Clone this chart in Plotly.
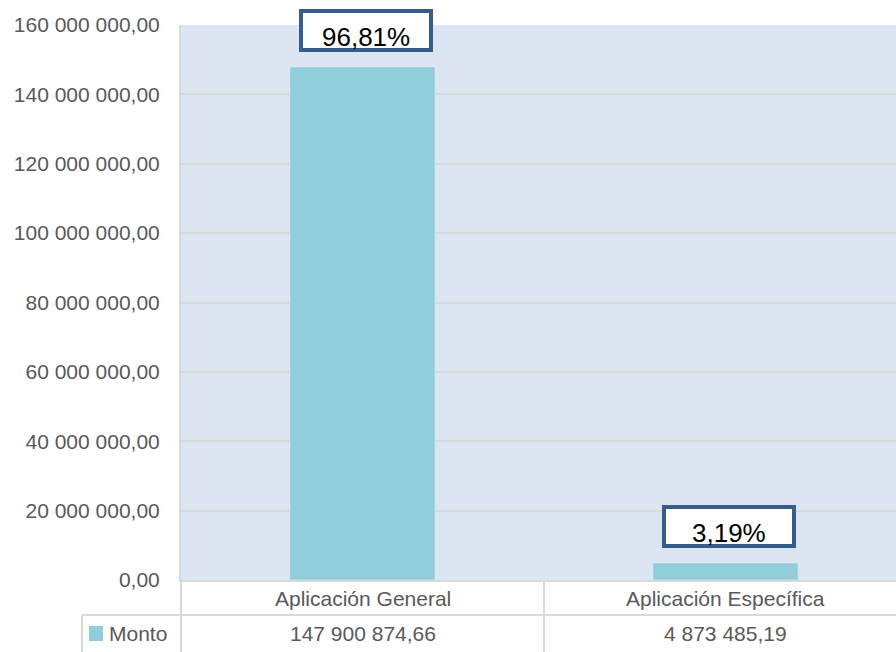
import plotly.graph_objects as go

categories = ["Aplicación General", "Aplicación Específica"]
monto = [147900874.66, 4873485.19]
percent_labels = ["96,81%", "3,19%"]
series_name = "Monto"
y_ticks = [0, 20e6, 40e6, 60e6, 80e6, 100e6, 120e6, 140e6, 160e6]

BAR = "#92CDDC"
BG = "#DCE6F2"
GRID = "#D9D9D9"
BORDER = "#385D8A"
TXT = "#595959"
FONT = "Liberation Sans, Arial, sans-serif"


def fmt(v):
    s = f"{v:,.2f}"
    return s.replace(",", " ").replace(".", ",")


W, H = 896, 652
ML, MR, MT, MB = 181, 0, 25, 72
plot_w = W - ML - MR
plot_h = H - MT - MB
cat_px = 363
x_lo = -0.5
x_hi = x_lo + plot_w / cat_px


def px_to_xpaper(px):
    return (px - ML) / plot_w


def py_to_ypaper(py):
    return (H - MB - py) / plot_h


fig = go.Figure()
fig.add_trace(go.Bar(
    x=categories, y=monto, name=series_name, marker_color=BAR,
    width=0.4, showlegend=False, hoverinfo="skip",
))

annotations = []
for c, v, lab in zip(categories, monto, percent_labels):
    # box
    annotations.append(dict(
        x=c, y=v, xref="x", yref="y", text=" ", showarrow=False,
        width=126, height=35, borderwidth=4, bordercolor=BORDER,
        bgcolor="white", borderpad=0, xanchor="center", yanchor="bottom",
        xshift=3, yshift=15,
    ))
    # text
    annotations.append(dict(
        x=c, y=v, xref="x", yref="y", text=lab, showarrow=False,
        font=dict(family=FONT, size=26, color="black"),
        xanchor="center", yanchor="middle", xshift=3, yshift=30,
    ))
    # category label (table first row)
    annotations.append(dict(
        x=c, y=py_to_ypaper(598), xref="x", yref="paper", text=c,
        showarrow=False, font=dict(family=FONT, size=21, color=TXT),
        xanchor="center", yanchor="middle",
    ))
    # table value
    annotations.append(dict(
        x=c, y=py_to_ypaper(634), xref="x", yref="paper", text=fmt(v),
        showarrow=False, font=dict(family=FONT, size=21, color=TXT),
        xanchor="center", yanchor="middle",
    ))

annotations.append(dict(
    x=px_to_xpaper(107), y=py_to_ypaper(634), xref="paper", yref="paper",
    text=series_name, showarrow=False,
    font=dict(family=FONT, size=21, color=TXT),
    xanchor="left", yanchor="middle",
))

line = dict(color=GRID, width=2)
sep_x = (0.5 - x_lo) / (x_hi - x_lo)
shapes = [
    dict(type="line", xref="paper", yref="paper", x0=px_to_xpaper(82), x1=1,
         y0=py_to_ypaper(615), y1=py_to_ypaper(615), line=line),
    dict(type="line", xref="paper", yref="paper", x0=px_to_xpaper(82), x1=px_to_xpaper(82),
         y0=py_to_ypaper(615), y1=py_to_ypaper(H), line=line),
    dict(type="line", xref="paper", yref="paper", x0=0, x1=0,
         y0=0, y1=py_to_ypaper(H), line=line),
    dict(type="line", xref="paper", yref="paper", x0=sep_x, x1=sep_x,
         y0=0, y1=py_to_ypaper(H), line=line),
    dict(type="rect", xref="paper", yref="paper", x0=px_to_xpaper(89), x1=px_to_xpaper(103),
         y0=py_to_ypaper(641), y1=py_to_ypaper(626), fillcolor=BAR, line=dict(width=0)),
]

fig.update_layout(
    width=W, height=H,
    margin=dict(l=ML, r=MR, t=MT, b=MB, pad=0),
    paper_bgcolor="white", plot_bgcolor=BG,
    separators=", ",
    font=dict(family=FONT, size=21, color=TXT),
    annotations=annotations, shapes=shapes,
)
fig.update_xaxes(
    range=[x_lo, x_hi], showgrid=False, showline=True, linecolor=GRID, linewidth=2,
    ticks="", showticklabels=False, fixedrange=True,
)
fig.update_yaxes(
    range=[0, 160e6], tickvals=y_ticks, tickformat=",.2f",
    showgrid=True, gridcolor=GRID, gridwidth=2, zeroline=False,
    showline=True, linecolor=GRID, linewidth=2,
    ticks="", ticklabelstandoff=15, tickfont=dict(family=FONT, size=21, color=TXT),
    fixedrange=True,
)

fig.write_html(
    "out.html",
    config={"displayModeBar": False},
    post_script="document.body.style.margin='0';document.body.style.overflow='hidden';",
)
